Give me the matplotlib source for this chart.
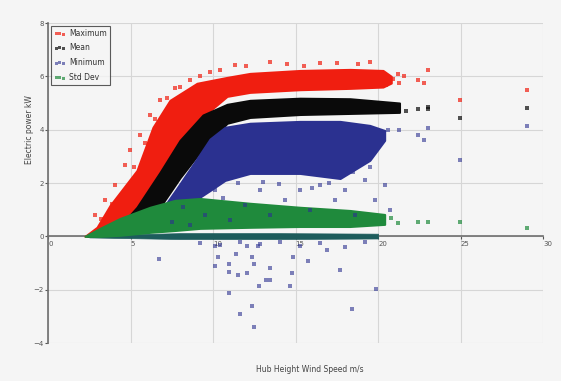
import matplotlib.pyplot as plt

# ---- dense bands (envelopes), wind speed m/s / power kW ----
max_x = [2.24, 2.97, 3.76, 5.39, 6.36, 7.39, 9.03, 10.85, 12.24, 15.27, 18.3, 20.3, 20.8]
max_hi = [0.0, 0.34, 1.16, 2.47, 4.09, 5.10, 5.74, 5.96, 6.11, 6.22, 6.26, 6.22, 6.0]
max_lo = [0.0, 0.05, 0.22, 1.09, 1.90, 2.90, 4.30, 5.25, 5.40, 5.50, 5.55, 5.60, 5.75]

mean_x = [2.40, 3.76, 4.97, 5.39, 6.79, 8.00, 9.39, 10.85, 12.24, 15.27, 18.3, 21.3]
mean_hi = [0.0, 0.24, 0.80, 1.09, 2.40, 3.60, 4.55, 4.95, 5.10, 5.18, 5.16, 5.00]
mean_lo = [0.0, 0.02, 0.11, 0.30, 1.10, 2.20, 3.30, 4.24, 4.46, 4.57, 4.61, 4.65]

min_x = [6.2, 6.79, 7.70, 8.91, 9.82, 10.73, 12.24, 15.27, 17.7, 19.5, 20.4]
min_hi = [0.40, 0.90, 1.70, 2.80, 3.65, 4.09, 4.24, 4.31, 4.31, 4.16, 3.97]
min_lo = [0.25, 0.41, 0.79, 1.35, 1.72, 2.10, 2.36, 2.36, 2.17, 2.85, 3.60]

# minimum sits on zero for a lot of samples
zero_x = [2.5, 8.0, 14.0, 20.0]
zero_hi = [0.04, 0.12, 0.12, 0.10]
zero_lo = [-0.04, -0.10, -0.10, -0.08]

std_x = [2.24, 3.15, 4.36, 6.18, 7.70, 9.21, 12.24, 15.27, 18.3, 20.4]
std_hi = [0.0, 0.30, 0.67, 1.09, 1.35, 1.42, 1.24, 1.09, 0.97, 0.82]
std_lo = [0.0, 0.0, 0.04, 0.15, 0.22, 0.30, 0.34, 0.37, 0.37, 0.45]

# ---- scattered points ----
max_px = [2.85, 3.45, 4.06, 4.67, 4.97, 5.58, 6.18, 6.79, 7.7, 8.61, 9.82, 11.33,
          13.45, 16.48, 19.52, 20.5, 21.2, 21.3, 22.4, 22.8, 23.0, 24.97, 29.03,
          3.2, 3.9, 4.4, 5.2, 5.9, 6.5, 7.2, 8.0, 9.2, 10.4, 12.0, 14.5, 15.5,
          17.5, 18.8, 20.9, 21.6]
max_py = [0.79, 1.35, 1.91, 2.66, 3.22, 3.79, 4.54, 5.10, 5.55, 5.85, 6.15, 6.41,
          6.52, 6.49, 6.52, 5.66, 6.10, 5.74, 5.85, 5.74, 6.22, 5.10, 5.47,
          0.65, 1.20, 1.55, 2.60, 3.50, 4.40, 5.20, 5.60, 6.00, 6.25, 6.40, 6.45,
          6.40, 6.50, 6.45, 5.90, 6.00]

mean_px = [21.3, 22.4, 23.0, 23.0, 24.97, 29.03, 21.7, 20.9]
mean_py = [4.80, 4.76, 4.76, 4.85, 4.42, 4.80, 4.70, 4.90]

min_px = [8.61, 9.52, 10.12, 11.03, 11.94, 12.85, 13.45, 14.36, 15.27, 15.88, 16.48,
          17.39, 18.0, 18.6, 19.2, 19.8, 20.4, 20.7, 17.09, 18.3, 18.9, 19.8,
          20.6, 21.3, 22.4, 22.8, 23.0, 24.97, 29.03,
          9.21, 10.42, 11.64, 12.85, 14.06, 15.27, 16.48, 18.0, 19.2,
          6.73, 10.12, 10.3, 10.97, 11.39, 10.97, 11.64, 12.36, 12.48, 12.36,
          12.48, 13.21, 13.45, 12.79, 14.67, 14.79, 14.85, 15.76, 17.7, 18.42,
          19.88, 13.45, 12.06, 11.52, 10.97, 12.06, 10.12, 12.73, 16.9,
          7.5, 8.2, 9.0, 10.6, 11.5, 13.0, 14.0, 16.0, 17.0, 18.5, 19.5]
min_py = [0.41, 0.79, 1.72, 0.60, 1.16, 1.72, 0.79, 1.35, 1.72, 0.97, 1.91,
          1.35, 1.72, 0.79, 2.10, 1.35, 1.91, 0.97, 2.47, 2.85, 3.22, 3.41,
          3.97, 3.97, 3.79, 3.60, 4.05, 2.85, 4.12,
          -0.26, -0.34, -0.22, -0.30, -0.22, -0.37, -0.26, -0.41, -0.22,
          -0.86, -1.12, -0.79, -1.35, -0.67, -2.14, -2.92, -2.62, -3.41, -0.79,
          -1.05, -1.65, -1.65, -1.87, -1.87, -1.39, -0.79, -0.94, -1.27, -2.74,
          -1.99, -1.20, -1.39, -1.46, -1.05, -0.37, -0.37, -0.37, -0.52,
          0.55, 1.10, 1.60, 1.45, 2.00, 2.05, 1.95, 1.80, 2.00, 2.40, 2.60]

std_px = [20.3, 21.2, 22.4, 23.0, 24.97, 29.03, 20.8]
std_py = [0.60, 0.49, 0.52, 0.52, 0.52, 0.30, 0.70]

C_MAX = '#f01e10'
C_MEAN = '#0a0a0a'
C_MIN = '#2b3190'
C_STD = '#1f8a3c'
C_ZERO = '#1d5c5c'
BG = '#f5f5f5'

fig = plt.figure(figsize=(5.61, 3.81), dpi=100, facecolor=BG)
ax = fig.add_axes([0.0856, 0.0997, 0.8824, 0.8399], facecolor=BG)

# dense clouds
ax.fill_between(max_x, max_lo, max_hi, color=C_MAX, lw=1.5, ec=C_MAX, zorder=2)
ax.fill_between(mean_x, mean_lo, mean_hi, color=C_MEAN, lw=1.5, ec=C_MEAN, zorder=3)
ax.fill_between(min_x, min_lo, min_hi, color=C_MIN, lw=1.5, ec=C_MIN, zorder=4)
ax.fill_between(zero_x, zero_lo, zero_hi, color=C_ZERO, lw=0.5, zorder=4)
ax.fill_between(std_x, std_lo, std_hi, color=C_STD, lw=1.5, ec=C_STD, zorder=5)

# scattered points
ax.scatter(max_px, max_py, s=7, marker='s', color=C_MAX, alpha=0.7, lw=0,
           label='Maximum', zorder=6)
ax.scatter(mean_px, mean_py, s=7, marker='s', color=C_MEAN, alpha=0.7, lw=0,
           label='Mean', zorder=6)
ax.scatter(min_px, min_py, s=7, marker='s', color=C_MIN, alpha=0.6, lw=0,
           label='Minimum', zorder=6)
ax.scatter(std_px, std_py, s=7, marker='s', color=C_STD, alpha=0.7, lw=0,
           label='Std Dev', zorder=6)

ax.set_xlim(0, 30)
ax.set_ylim(-4, 8)
ax.set_xticks(range(0, 31, 5))
ax.set_yticks(range(-4, 9, 2))
ax.grid(True, color='#d6d6d6', lw=0.8)
ax.set_axisbelow(True)
for side in ['top', 'right']:
    ax.spines[side].set_visible(False)
ax.spines['bottom'].set_position(('data', 0))
ax.spines['bottom'].set_zorder(1)
for side in ['left', 'bottom']:
    ax.spines[side].set_color('#6e6e6e')
    ax.spines[side].set_linewidth(1.2)
ax.tick_params(labelsize=5, colors='#555555', length=2, pad=1)
for lab in ax.get_xticklabels():
    lab.set_horizontalalignment('left')

fig.text(0.553, 1 - 370 / 381, 'Hub Height Wind Speed m/s', fontsize=5.5,
         color='#444444', ha='center', va='center')
fig.text(30 / 561, 1 - 130 / 381, 'Electric power kW', fontsize=5.5,
         color='#444444', ha='center', va='center', rotation=90)

leg = ax.legend(loc='upper left', fontsize=5.5, scatterpoints=3, markerscale=0.8,
                frameon=True, fancybox=False, borderaxespad=0.35,
                handletextpad=0.4, labelspacing=0.75, borderpad=0.4,
                handlelength=1.6)
leg.get_frame().set_edgecolor('#333333')
leg.get_frame().set_facecolor(BG)
leg.get_frame().set_linewidth(0.8)
for t in leg.get_texts():
    t.set_color('#333333')

plt.savefig('out.png', dpi=100, facecolor=BG)
